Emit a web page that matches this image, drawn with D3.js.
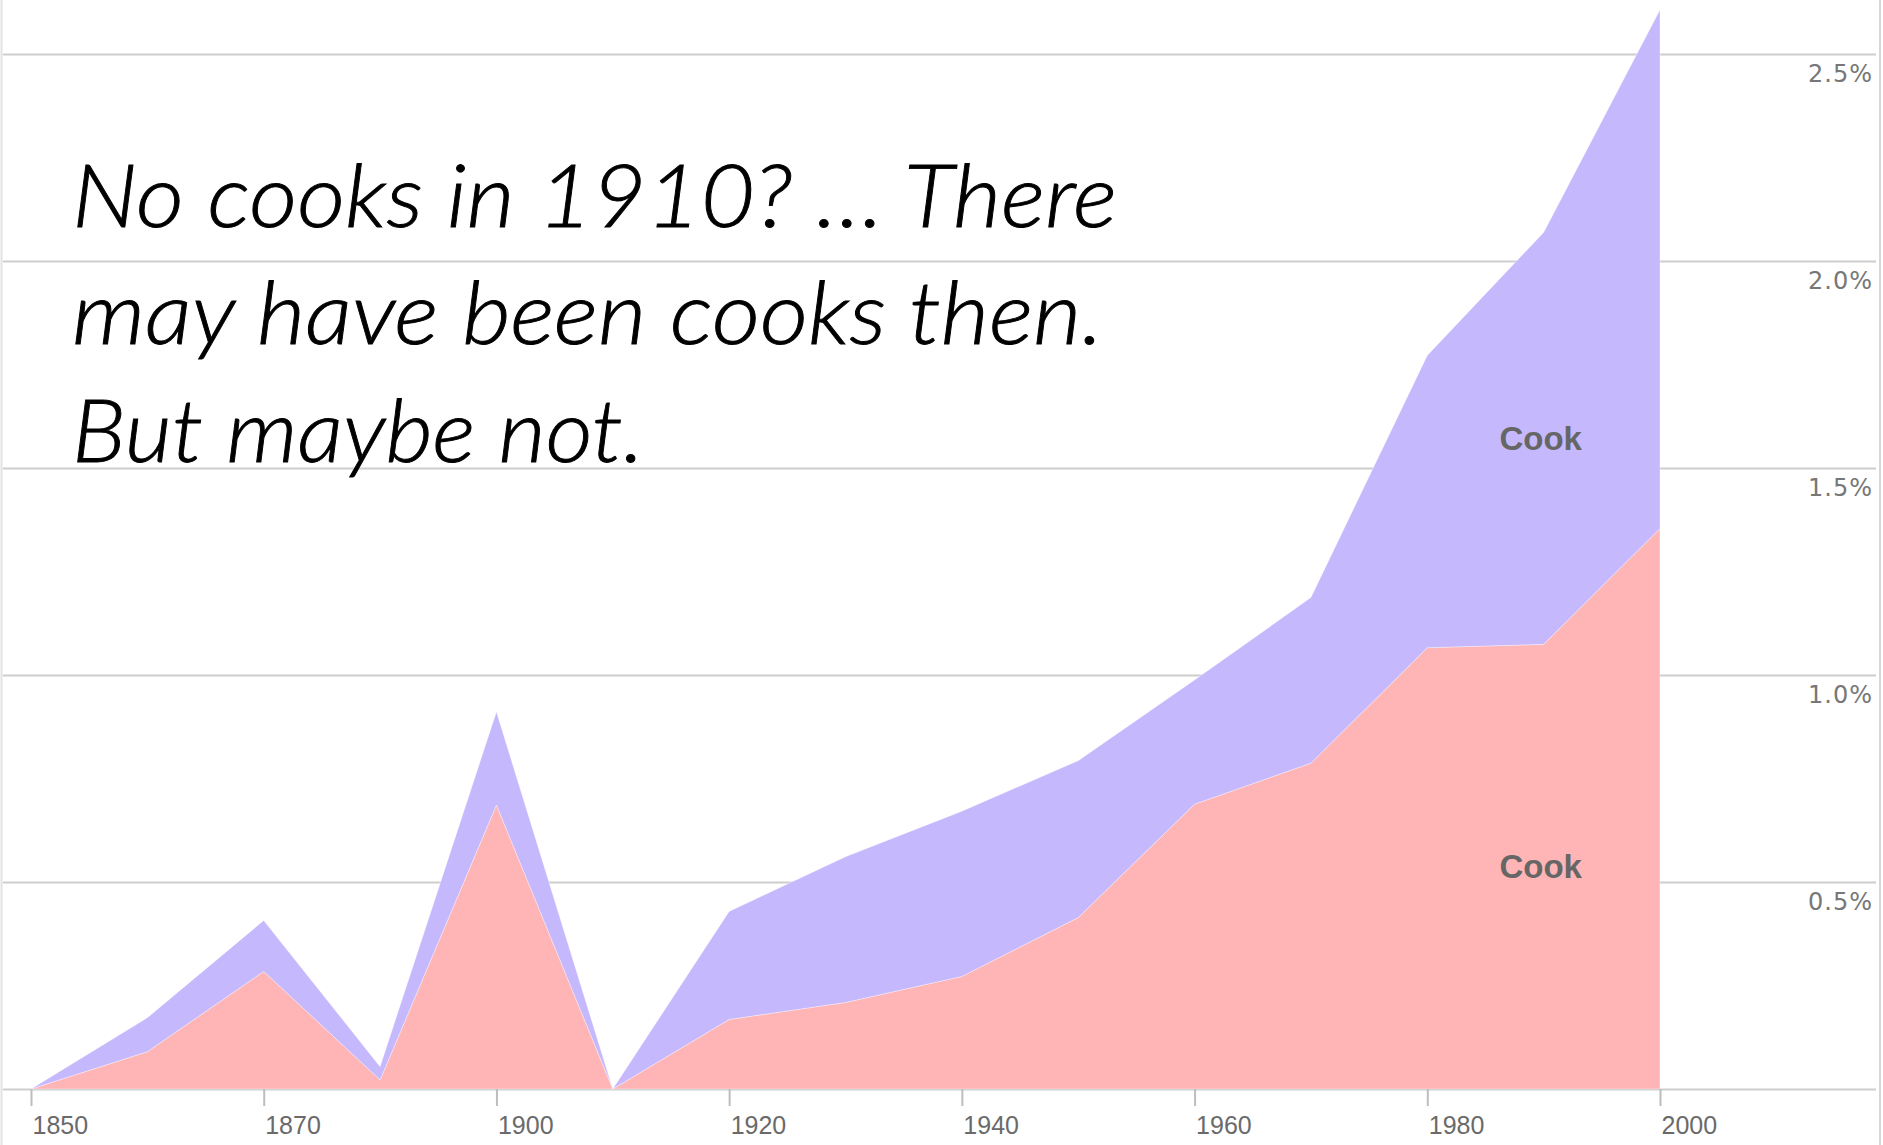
<!DOCTYPE html>
<html>
<head>
<meta charset="utf-8">
<script src="https://cdn.jsdelivr.net/npm/d3@7"></script>
<style>
  html, body { margin: 0; padding: 0; background: #fff; }
  svg { display: block; }
</style>
</head>
<body>
<svg id="chart" width="1883" height="1145"></svg>
<script>
// Census years (1890 is missing from the record)
const years = [1850, 1860, 1870, 1880, 1900, 1910, 1920, 1930, 1940, 1950, 1960, 1970, 1980, 1990, 2000];
// Share of the workforce (%) for the two "Cook" groups, stacked
const cookLower = [0, 0.090, 0.284, 0.022, 0.686, 0, 0.168, 0.209, 0.272, 0.414, 0.688, 0.787, 1.066, 1.074, 1.354];
const cookUpper = [0, 0.082, 0.123, 0.032, 0.225, 0, 0.261, 0.352, 0.399, 0.379, 0.300, 0.400, 0.706, 0.995, 1.253];
const seriesNames = ["Cook", "Cook"];
const seriesColors = ["#ffb4b6", "#c5b8fc"];
const xTickYears = [1850, 1870, 1900, 1920, 1940, 1960, 1980, 2000];
const yTicks = [0, 0.5, 1, 1.5, 2, 2.5];
const noteLines = [
  "No cooks in 1910? \u2026 There",
  "may have been cooks then.",
  "But maybe not."
];
const labelYear = 1990;

const svg = d3.select("#chart");
const W = 1883, H = 1145;

const x = d3.scalePoint().domain(years).range([31, 1660]);
const y = d3.scaleLinear().domain([0, 2.5]).range([1089, 54]);

// frame lines on both sides
svg.append("line").attr("x1", 1.5).attr("x2", 1.5).attr("y1", 0).attr("y2", H)
  .attr("stroke", "#e2e2e2").attr("stroke-width", 2);
svg.append("line").attr("x1", 1880).attr("x2", 1880).attr("y1", 0).attr("y2", H)
  .attr("stroke", "#d6d6d6").attr("stroke-width", 2);

// horizontal gridlines + percent labels
const gridG = svg.append("g").attr("transform", "translate(3,0)")
  .call(d3.axisRight(y).tickValues(yTicks).tickSize(1873).tickFormat(d => d === 0 ? "" : d3.format(".1f")(d) + "%"));
gridG.select(".domain").remove();
gridG.selectAll(".tick line").attr("stroke", "#cdcdcd").attr("stroke-width", 2);
gridG.selectAll(".tick text")
  .attr("x", 1870).attr("dy", 0).attr("y", 27)
  .attr("text-anchor", "end")
  .attr("fill", "#777")
  .style("font-family", "'DejaVu Sans', Verdana, sans-serif")
  .style("font-size", "24px")
  .style("letter-spacing", "1px");

// stacked areas
const table = years.map((yr, i) => ({ year: yr, lower: cookLower[i], upper: cookUpper[i] }));
const stack = d3.stack().keys(["lower", "upper"]);
const layers = stack(table);
const area = d3.area()
  .x(d => x(d.data.year))
  .y0(d => y(d[0]))
  .y1(d => y(d[1]));

svg.append("g").selectAll("path").data(layers).join("path")
  .attr("d", area)
  .attr("fill", (d, i) => seriesColors[i])
  .attr("stroke", "#ffffff")
  .attr("stroke-opacity", 0.35)
  .attr("stroke-width", 1);

// x axis ticks and year labels
const xAxisG = svg.append("g").attr("transform", `translate(0,${y(0)})`)
  .call(d3.axisBottom(x).tickValues(xTickYears).tickSize(17));
xAxisG.select(".domain").remove();
xAxisG.selectAll(".tick line").attr("stroke", "#bdbdbd").attr("stroke-width", 2);
xAxisG.selectAll(".tick text")
  .attr("y", 45).attr("dy", 0).attr("x", 1)
  .attr("text-anchor", "start")
  .attr("fill", "#6a6a6a")
  .style("font-family", "'Liberation Sans', Arial, sans-serif")
  .style("font-size", "25px");

// series labels placed in the middle of each band
const li = years.indexOf(labelYear);
svg.append("g").selectAll("text").data(layers).join("text")
  .attr("x", x(labelYear) - 3)
  .attr("y", d => y((d[li][0] + d[li][1]) / 2))
  .attr("dominant-baseline", "central")
  .attr("text-anchor", "middle")
  .attr("fill", "#666")
  .style("font-family", "'Liberation Sans', Arial, sans-serif")
  .style("font-weight", "bold")
  .style("font-size", "33px")
  .text((d, i) => seriesNames[i]);

// annotation
const noteWidths = [1045, 1031, 572];
svg.append("g").selectAll("text").data(noteLines).join("text")
  .attr("x", 72)
  .attr("y", (d, i) => 227 + i * 117.3)
  .attr("textLength", (d, i) => noteWidths[i])
  .attr("lengthAdjust", "spacingAndGlyphs")
  .attr("fill", "#000")
  .attr("stroke", "#000")
  .attr("stroke-width", 0.9)
  .style("font-family", "Lato, 'Open Sans', sans-serif")
  .style("font-style", "italic")
  .style("font-weight", 300)
  .style("font-size", "86px")
  .text(d => d);
</script>
</body>
</html>
